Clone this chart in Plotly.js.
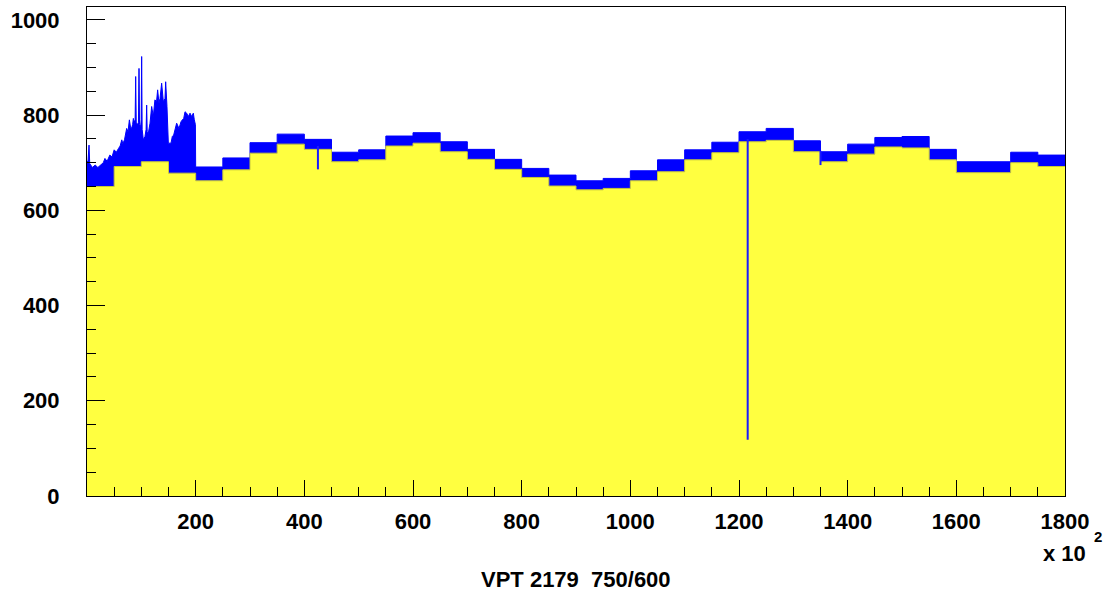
<!DOCTYPE html>
<html>
<head>
<meta charset="utf-8">
<script src="https://cdn.plot.ly/plotly-3.0.1.min.js"></script>
<style>html,body{margin:0;padding:0;background:#fff;}#chart{width:1109px;height:593px;}</style>
</head>
<body>
<div id="chart"></div>
<script>
// ---- data (x in units of 10^2) ----
// early spiky region: upper envelope of the blue band
const earlyX    = [0, 2, 3.7, 5, 10, 15, 20, 25, 30, 33, 37, 42, 46, 50, 54, 58, 61, 64, 66, 69, 71, 73, 75.5, 78, 80, 82, 84, 85.3, 87, 88.6, 89.6, 90.6, 92.6, 94.7, 95.7, 96.7, 98.8, 99.7, 100.6, 101.5, 103.7, 106.7, 108.8, 109.8, 110.8, 112.9, 116, 119, 122, 125, 128, 130, 132.5, 134.4, 137.4, 140.5, 143.6, 144.8, 147.2, 149.7, 154.6, 157, 159.5, 162, 165, 169.3, 173, 175.5, 178, 180.4, 183.4, 186.5, 189.6, 192.6, 195.7, 197.5, 199.5];
const earlyHigh = [700, 705, 737, 698, 690, 695, 690, 696, 700, 709, 703, 716, 712, 727, 722, 730, 735, 748, 740, 748, 760, 772, 765, 790, 775, 772, 780, 793, 785, 790, 881, 785, 779, 785, 898, 780, 776, 790, 923, 770, 748, 755, 770, 821, 765, 762, 783, 818, 797, 832, 828, 853, 825, 835, 867, 828, 835, 870, 818, 741, 741, 755, 758, 769, 783, 772, 786, 790, 793, 807, 804, 797, 804, 797, 804, 790, 780];
// early region: lower edge of blue band (top of yellow)
const earlyEdges = [0, 50, 100, 150, 200];
const earlyLow   = [650, 692, 702, 678];
// step segments from 200 to 1800
const segEdges = [200,250,300,350,400,450,500,550,600,650,700,750,800,850,900,950,1000,1050,1100,1150,1200,1250,1300,1350,1400,1450,1500,1550,1600,1650,1700,1750,1800];
const segLow   = [662,685,720,739,728,702,706,735,741,723,707,686,669,651,643,646,662,681,706,721,744,747,723,702,718,733,731,706,679,679,700,692];
const segHigh  = [691,710,742,760,749,722,727,756,763,744,728,707,688,674,662,667,683,706,727,743,765,772,746,723,739,753,755,728,702,702,722,716];
// narrow dips
const dipX      = [425, 1216, 1350];
const dipBottom = [686, 118, 695];
const dipTop    = [735, 750, 725];
// ticks
const xTickVals = [200,400,600,800,1000,1200,1400,1600,1800];
const xTickText = ['200','400','600','800','1000','1200','1400','1600','1800'];

// ---- build step paths ----
function steps(edges, vals){
  const xs=[], ys=[];
  for(let i=0;i<vals.length;i++){ xs.push(edges[i], edges[i+1]); ys.push(vals[i], vals[i]); }
  return {xs, ys};
}
const segH = steps(segEdges, segHigh);
const segL = steps(segEdges, segLow);
const earL = steps(earlyEdges, earlyLow);

const highX = earlyX.concat(segH.xs);
const highY = earlyHigh.concat(segH.ys);
const lowX  = earL.xs.concat(segL.xs);
const lowY  = earL.ys.concat(segL.ys);

const dX=[], dY=[];
for(let i=0;i<dipX.length;i++){ dX.push(dipX[i], dipX[i], null); dY.push(dipTop[i], dipBottom[i], null); }

const traces = [
  {x: highX, y: highY, type:'scatter', mode:'lines', line:{color:'#0000ff', width:1}, fill:'tozeroy', fillcolor:'#0000ff', hoverinfo:'skip'},
  {x: lowX, y: lowY, type:'scatter', mode:'lines', line:{color:'#c8c83a', width:1}, fill:'tozeroy', fillcolor:'#ffff40', hoverinfo:'skip'},
  {x: dX, y: dY, type:'scatter', mode:'lines', line:{color:'#1a1aff', width:2}, hoverinfo:'skip'}
];

const tickFont = {family:'Liberation Sans, Arial, sans-serif', size:22, color:'#000', weight:'bold'};
const layout = {
  width:1109, height:593,
  margin:{l:87, r:44, t:7, b:97},
  paper_bgcolor:'#fff', plot_bgcolor:'#fff',
  showlegend:false,
  xaxis:{range:[0,1800], showline:true, linecolor:'#000', linewidth:1, mirror:true,
         ticks:'inside', ticklen:16, tickcolor:'#000', tickmode:'array', tickvals:xTickVals, ticktext:xTickText,
         minor:{tickmode:'linear', tick0:0, dtick:50, ticks:'inside', ticklen:9, tickcolor:'#000'},
         showgrid:false, zeroline:false, tickfont:tickFont, ticklabelstandoff:6},
  yaxis:{range:[0,1027], showline:true, linecolor:'#000', linewidth:1, mirror:true,
         ticks:'inside', ticklen:18, tickcolor:'#000', tickmode:'linear', tick0:0, dtick:200,
         minor:{tickmode:'linear', tick0:0, dtick:50, ticks:'inside', ticklen:9, tickcolor:'#000'},
         showgrid:false, zeroline:false, tickfont:tickFont, ticklabelstandoff:22},
  annotations:[
    {xref:'paper', yref:'paper', x:1.0235, y:-0.1166, xanchor:'right', yanchor:'middle', showarrow:false,
     text:'x 10', font:tickFont},
    {xref:'paper', yref:'paper', x:1.0276, y:-0.0838, xanchor:'left', yanchor:'middle', showarrow:false,
     text:'2', font:{family:'Liberation Sans, Arial, sans-serif', size:15, color:'#000', weight:'bold'}},
    {xref:'paper', yref:'paper', x:0.5, y:-0.17, xanchor:'center', yanchor:'middle', showarrow:false,
     text:'VPT 2179  750/600', font:{family:'Liberation Sans, Arial, sans-serif', size:22, color:'#000', weight:'bold'}}
  ]
};
Plotly.newPlot('chart', traces, layout, {displayModeBar:false, staticPlot:true});
</script>
</body>
</html>
